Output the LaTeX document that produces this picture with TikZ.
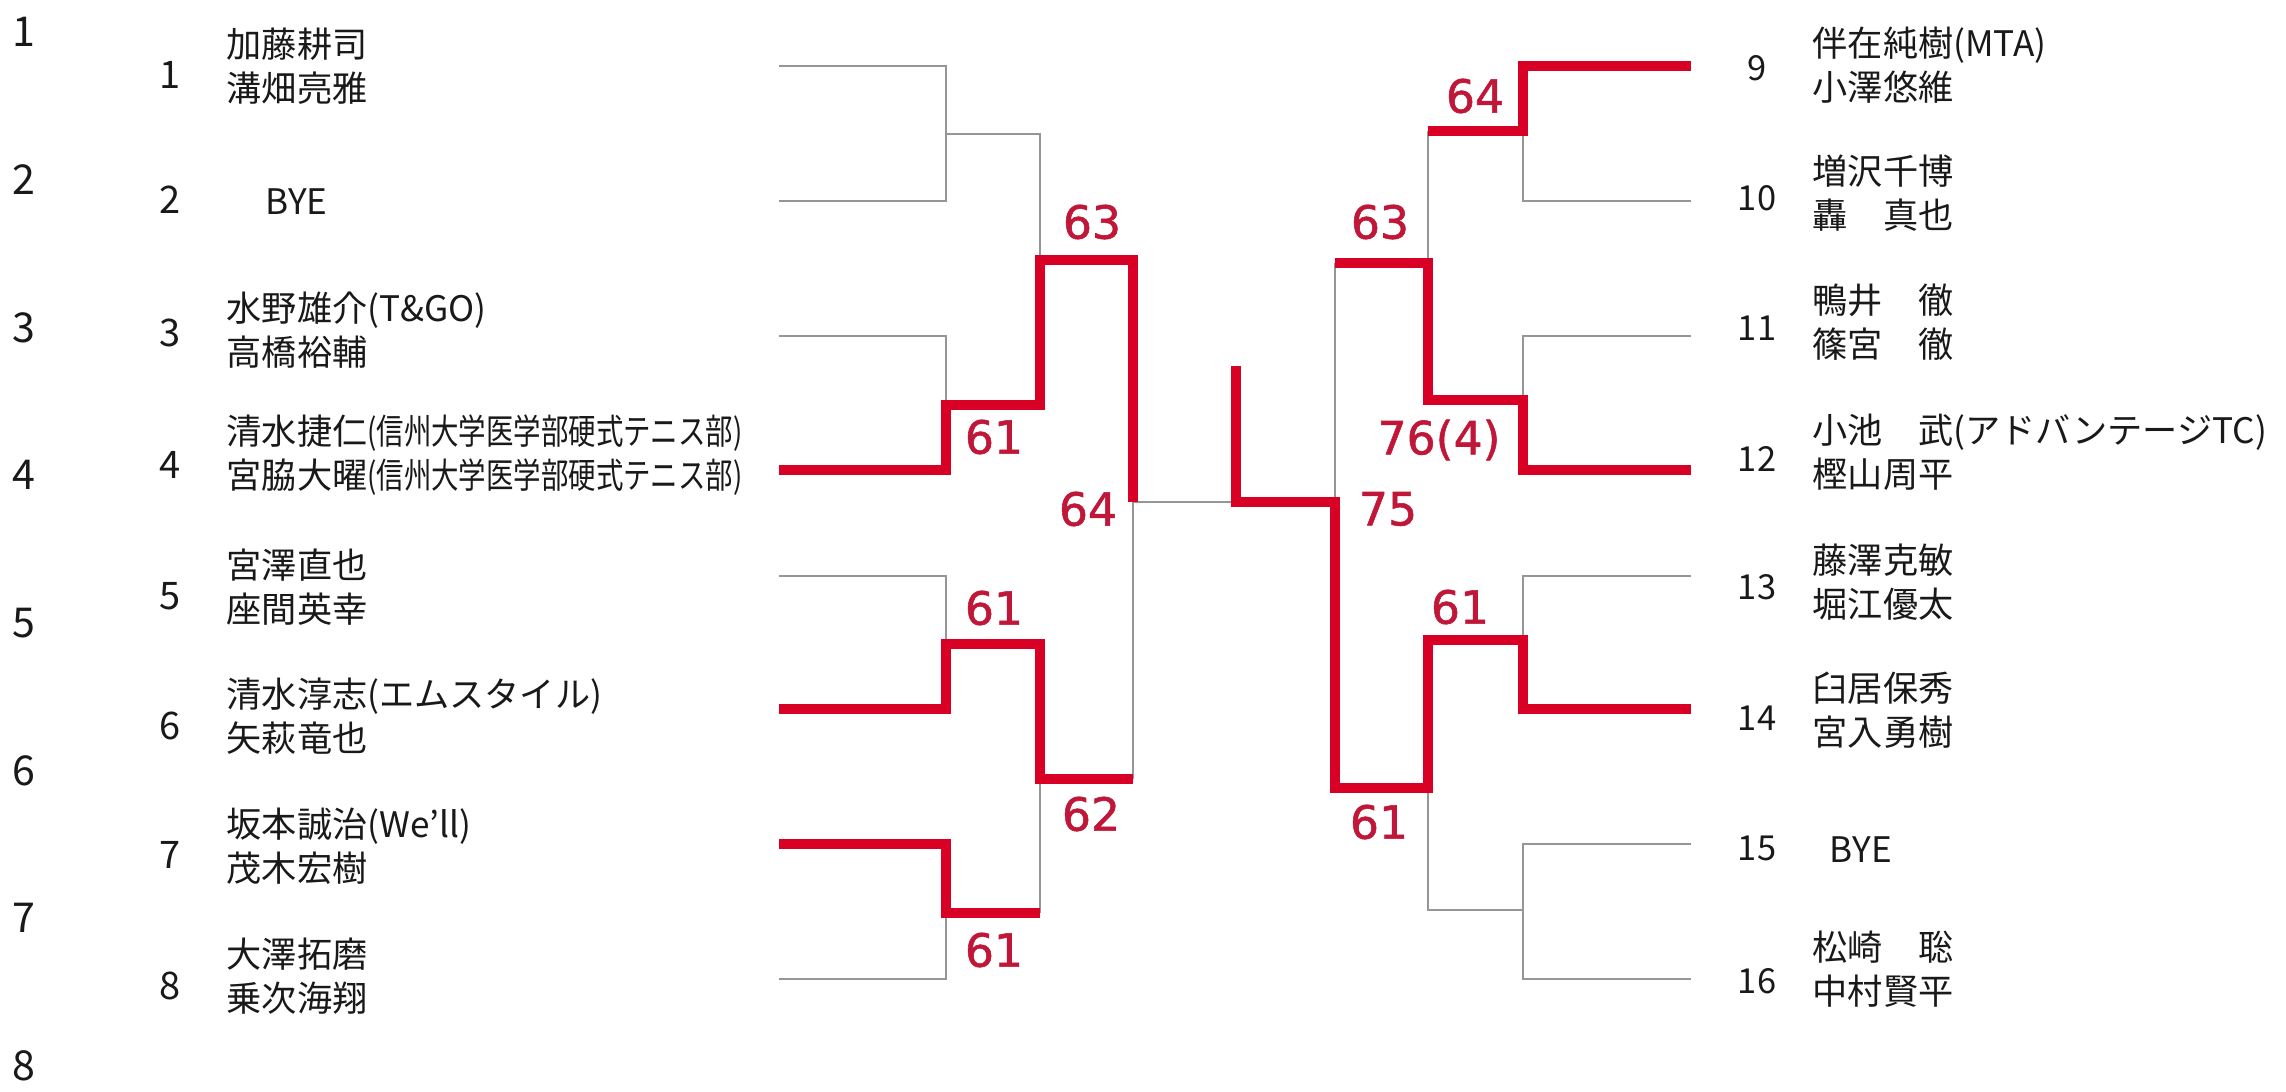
\documentclass[tikz,border=0pt]{standalone}
\usepackage{fontspec}
\usepackage{xcolor}
\usepackage{tikz}
\setmainfont{Noto Sans CJK JP}
\newfontfamily\narrowjp[FakeStretch=0.78]{Noto Sans CJK JP}
\newfontfamily\scorefont[FakeBold=1.2]{DejaVu Sans}
\definecolor{winred}{RGB}{216,0,36}
\definecolor{scorered}{RGB}{192,22,56}
\definecolor{drawgrey}{RGB}{150,150,150}
\definecolor{inkblack}{RGB}{25,25,25}

\begin{document}
\begin{tikzpicture}[
  x=0.01cm, y=-0.01cm,
  lose/.style={draw=drawgrey, line width=0.6pt},
  win/.style={draw=winred, line width=2.85pt, line join=miter},
  pname/.style={anchor=west, align=left, inner sep=0pt, text=inkblack,
                font=\fontsize{10pt}{12.5pt}\selectfont},
  seed/.style={inner sep=0pt, text=inkblack, font=\fontsize{10.8pt}{12pt}\selectfont},
  rseed/.style={inner sep=0pt, text=inkblack, font=\fontsize{9.8pt}{12pt}\selectfont},
  rownum/.style={inner sep=0pt, text=inkblack, font=\fontsize{11.7pt}{13pt}\selectfont},
  score/.style={inner sep=0pt, text=scorered, font=\scorefont\fontsize{13pt}{15pt}\selectfont}
]
  \useasboundingbox[fill=white] (0,0) rectangle (2286,1091);
  % row numbers and seed numbers
  \foreach \i in {1,...,8}
    \node[rownum] (row\i) at (24,{32+147.7*(\i-1)}) {\i};
  \foreach \i/\y in {1/75,2/200,3/333,4/465,5/596,6/726,7/855,8/986}
    \node[seed] (n\i) at (170,\y) {\i};
  \foreach \i/\y in {9/68,10/198,11/328,12/459,13/587,14/718,15/848,16/981}
    \node[rseed] (n\i) at (1757,\y) {\i};
  % players
  \node[pname] (p1) at (226,66) {加藤耕司\\溝畑亮雅};
  \node[pname] (p2) at (265,202) {BYE};
  \node[pname] (p3) at (226,330) {水野雄介(T\&GO)\\高橋裕輔};
  \node[pname] (p4) at (226,455) {清水捷仁{\narrowjp(信州大学医学部硬式テニス部)}\\宮脇大曜{\narrowjp(信州大学医学部硬式テニス部)}};
  \node[pname] (p5) at (226,587) {宮澤直也\\座間英幸};
  \node[pname] (p6) at (226,716) {清水淳志(エムスタイル)\\矢萩竜也};
  \node[pname] (p7) at (226,846) {坂本誠治(We'll)\\茂木宏樹};
  \node[pname] (p8) at (226,976) {大澤拓磨\\乗次海翔};
  \node[pname] (p9) at (1812,65) {伴在純樹(MTA)\\小澤悠維};
  \node[pname] (p10) at (1812,193) {増沢千博\\轟　真也};
  \node[pname] (p11) at (1812,322) {鴨井　徹\\篠宮　徹};
  \node[pname] (p12) at (1812,452) {小池　武(アドバンテージTC)\\樫山周平};
  \node[pname] (p13) at (1812,582) {藤澤克敏\\堀江優太};
  \node[pname] (p14) at (1812,710) {臼居保秀\\宮入勇樹};
  \node[pname] (p15) at (1829,850) {BYE};
  \node[pname] (p16) at (1812,969) {松崎　聡\\中村賢平};
  % bracket ends
  \foreach \i/\y in {1/66,2/201,3/336,4/470,5/576,6/709,7/844,8/979}
    \coordinate (e\i) at (779,\y);
  \foreach \i/\y in {9/66,10/201,11/336,12/470,13/576,14/709,15/844,16/979}
    \coordinate (e\i) at (1691,\y);
  % lost paths
  \draw[lose] (e1) -| (946,201) -- (e2);
  \draw[lose] (946,134) -| (1040,260);
  \draw[lose] (e3) -| (946,405);
  \draw[lose] (e5) -| (946,644);
  \draw[lose] (e8) -| (946,913);
  \draw[lose] (1040,913) -- (1040,779);
  \draw[lose] (1133,779) -- (1133,502) -- (1236,502);
  \draw[lose] (e10) -| (1523,131);
  \draw[lose] (1428,131) -- (1428,263);
  \draw[lose] (e11) -| (1523,400);
  \draw[lose] (1335,263) -- (1335,502);
  \draw[lose] (e13) -| (1523,640);
  \draw[lose] (e15) -| (1523,979) -- (e16);
  \draw[lose] (1428,788) |- (1523,910);
  % winning paths
  \draw[win] (e4) -| (946,405) -| (1040,260) -| (1133,502);
  \draw[win] (e6) -| (946,644) -| (1040,779) -- (1133,779);
  \draw[win] (e7) -| (946,913) -- (1040,913);
  \draw[win] (e9) -| (1523,131) -- (1428,131);
  \draw[win] (e12) -| (1523,400) -| (1428,263) -- (1335,263);
  \draw[win] (e14) -| (1523,640) -| (1428,788) -| (1335,502) -| (1236,366);
  % scores
  \node[score] (sc1) at (994,437) {61};
  \node[score] (sc2) at (1092,222) {63};
  \node[score] (sc3) at (1088,509) {64};
  \node[score] (sc4) at (994,608) {61};
  \node[score] (sc5) at (1091,814) {62};
  \node[score] (sc6) at (994,950) {61};
  \node[score] (sc7) at (1475,96) {64};
  \node[score] (sc8) at (1380,222) {63};
  \node[score] (sc9) at (1439,440) {76(4)};
  \node[score] (sc10) at (1388,509) {75};
  \node[score] (sc11) at (1460,607) {61};
  \node[score] (sc12) at (1379,822) {61};
\end{tikzpicture}
\end{document}
